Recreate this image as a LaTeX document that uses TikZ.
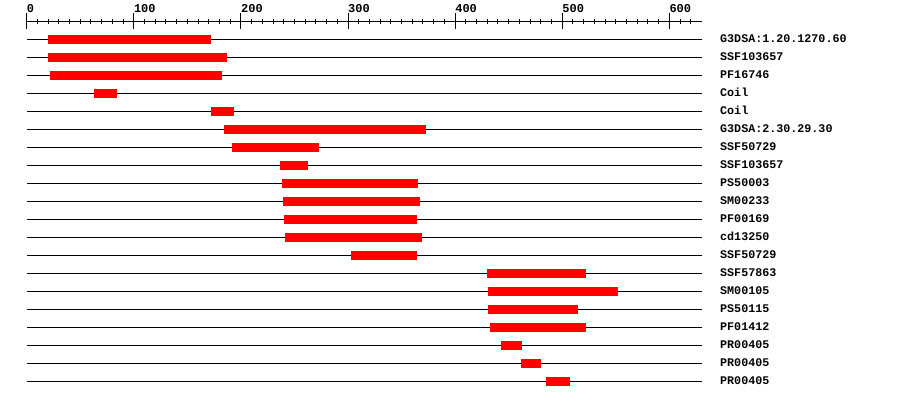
\documentclass[tikz,border=0pt]{standalone}
\usepackage{fontspec}
\setmonofont{Liberation Mono}
\begin{document}
\begin{tikzpicture}[x=1pt,y=-1pt,
  rowline/.style={black,line width=1pt},
  bar/.style={fill=red,draw=none},
  lbl/.style={anchor=base west,inner sep=0pt,font=\ttfamily\bfseries\fontsize{11.7}{12}\selectfont},
  axlbl/.style={anchor=base west,inner sep=0pt,font=\ttfamily\bfseries\fontsize{12}{12}\selectfont}]
\useasboundingbox[fill=white] (0,0) rectangle (900,400);
% axis
\draw[rowline] (26.7,21) -- (702,21);
\foreach \v in {0,100,...,600} {
  \draw[rowline] ({26.7+\v*1.071},13) -- ({26.7+\v*1.071},28.5);
  \node[axlbl] at ({26.7+\v*1.071},12) {\v};
}
\foreach \v in {10,20,...,620} {
  \draw[rowline] ({26.7+\v*1.071},18.5) -- ({26.7+\v*1.071},24);
}
% rows
\foreach \a/\b/\t [count=\i from 0] in {
  48/211/G3DSA:1.20.1270.60,
  48/227/SSF103657,
  50/222/PF16746,
  94/117/Coil,
  211/234/Coil,
  224/426/G3DSA:2.30.29.30,
  232/319/SSF50729,
  280/308/SSF103657,
  282/418/PS50003,
  283/420/SM00233,
  284/417/PF00169,
  285/422/cd13250,
  351/417/SSF50729,
  487/586/SSF57863,
  488/618/SM00105,
  488/578/PS50115,
  490/586/PF01412,
  501/522/PR00405,
  521/541/PR00405,
  546/570/PR00405} {
  \pgfmathsetmacro{\yy}{39.5+18*\i}
  \draw[rowline] (26.7,\yy) -- (702,\yy);
  \fill[bar] (\a,\yy-4.5) rectangle (\b,\yy+4.5);
  \node[lbl] (l\i) at (720,\yy+3) {\t};
}
\end{tikzpicture}
\end{document}
